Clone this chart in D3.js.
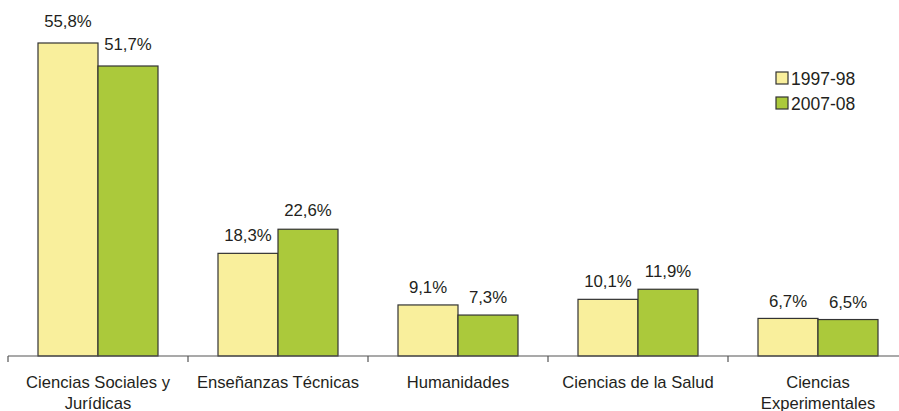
<!DOCTYPE html>
<html>
<head>
<meta charset="utf-8">
<script src="https://cdn.jsdelivr.net/npm/d3@7"></script>
<style>
  body { margin: 0; background: #fff; }
  svg { display: block; font-family: "Liberation Sans", Arial, sans-serif; }
</style>
</head>
<body>
<div id="chart"></div>
<script>
// Datos
const categories = [
  ["Ciencias Sociales y", "Jurídicas"],
  ["Enseñanzas Técnicas"],
  ["Humanidades"],
  ["Ciencias de la Salud"],
  ["Ciencias", "Experimentales"]
];
const seriesNames = ["1997-98", "2007-08"];
const values1997 = [55.8, 18.3, 9.1, 10.1, 6.7];
const values2007 = [51.7, 22.6, 7.3, 11.9, 6.5];
const colors = ["#f9ef9c", "#abc93b"];

const width = 899, height = 411;
const marginLeft = 8, marginBottom = 55;
const bandStep = 180;

const fmt = v => d3.format(".1f")(v).replace(".", ",") + "%";

const svg = d3.select("#chart").append("svg")
    .attr("width", width)
    .attr("height", height);

const x0 = d3.scaleBand()
    .domain(d3.range(categories.length))
    .range([marginLeft, marginLeft + bandStep * categories.length]);

const x1 = d3.scaleBand()
    .domain([0, 1])
    .range([30, 150]);

const y = d3.scaleLinear()
    .domain([0, 55.8])
    .range([height - marginBottom, 43]);

const rows = categories.map((c, i) => ({i, vals: [values1997[i], values2007[i]]}));

const groups = svg.append("g")
  .selectAll("g")
  .data(rows)
  .join("g")
    .attr("transform", d => `translate(${x0(d.i)},0)`);

groups.selectAll("rect")
  .data(d => d.vals.map((v, k) => ({v, k})))
  .join("rect")
    .attr("x", d => x1(d.k))
    .attr("y", d => y(d.v))
    .attr("width", x1.bandwidth())
    .attr("height", d => y(0) - y(d.v))
    .attr("fill", d => colors[d.k])
    .attr("stroke", "#333")
    .attr("stroke-width", 1.2);

// etiquetas de valor (la separación crece algo con la altura de la barra)
groups.selectAll("text.val")
  .data(d => d.vals.map((v, k) => ({v, k})))
  .join("text")
    .attr("class", "val")
    .attr("x", d => x1(d.k) + x1.bandwidth() / 2)
    .attr("y", d => y(d.v) - (11.2 + 0.085 * d.v))
    .attr("text-anchor", "middle")
    .attr("font-size", 16.8)
    .attr("fill", "#231f20")
    .text(d => fmt(d.v));

// Eje
const axis = svg.append("g")
    .attr("transform", `translate(0,${y(0)})`);
axis.append("line")
    .attr("x1", marginLeft).attr("x2", width)
    .attr("stroke", "#555").attr("stroke-width", 1.2);
axis.selectAll("line.tick")
  .data(d3.range(categories.length + 1))
  .join("line")
    .attr("class", "tick")
    .attr("x1", i => marginLeft + i * x0.step())
    .attr("x2", i => marginLeft + i * x0.step())
    .attr("y1", 0).attr("y2", 6)
    .attr("stroke", "#555").attr("stroke-width", 1.2);

const labels = axis.selectAll("text.cat")
  .data(rows)
  .join("text")
    .attr("class", "cat")
    .attr("x", d => x0(d.i) + x0.bandwidth() / 2)
    .attr("y", 32)
    .attr("text-anchor", "middle")
    .attr("font-size", 16.6)
    .attr("fill", "#231f20");
labels.selectAll("tspan")
  .data(d => categories[d.i])
  .join("tspan")
    .attr("x", function() { return this.parentNode.getAttribute("x"); })
    .attr("dy", (d, j) => j === 0 ? 0 : 21)
    .text(d => d);

// Leyenda
const legend = svg.append("g")
    .attr("transform", "translate(776,72)");
const li = legend.selectAll("g")
  .data(seriesNames)
  .join("g")
    .attr("transform", (d, i) => `translate(0,${i * 25})`);
li.append("rect")
    .attr("width", 12).attr("height", 12)
    .attr("fill", (d, i) => colors[i])
    .attr("stroke", "#333").attr("stroke-width", 1.2);
li.append("text")
    .attr("x", 15).attr("y", 13)
    .attr("font-size", 17.5)
    .attr("fill", "#231f20")
    .text(d => d);
</script>
</body>
</html>
